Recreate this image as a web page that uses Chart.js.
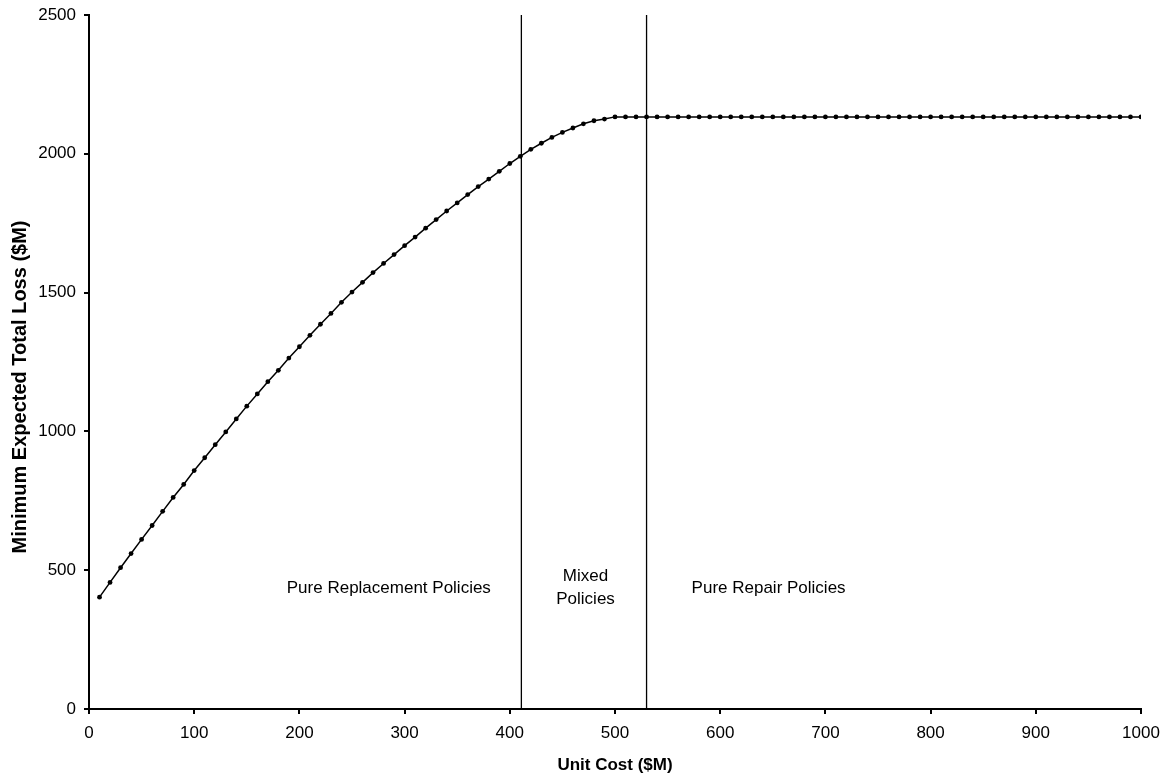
<!DOCTYPE html>
<html>
<head>
<meta charset="utf-8">
<script src="https://cdn.jsdelivr.net/npm/chart.js@4.4.1/dist/chart.umd.min.js"></script>
<style>
  html, body { margin: 0; padding: 0; background: #fff; }
  #wrap { width: 1165px; height: 776px; }
</style>
</head>
<body>
<div id="wrap"><canvas id="chart" width="1165" height="776"></canvas></div>
<script>
// unit cost ($M) for each computed point
const unitCost = [];
for (let c = 10; c <= 1000; c += 10) unitCost.push(c);

// minimum expected total loss ($M)
const lossRising = [
  403, 456, 509, 560, 611, 661, 712, 762, 809, 859,
  905, 952, 998, 1045, 1091, 1135, 1179, 1220, 1264, 1305,
  1346, 1386, 1425, 1465, 1502, 1537, 1572, 1605, 1637, 1669,
  1700, 1732, 1763, 1794, 1823, 1853, 1882, 1909, 1937, 1965,
  1991, 2016, 2038, 2059, 2077, 2093, 2108, 2119, 2125, 2133
];
const plateauLoss = 2133;
const minLoss = lossRising.concat(new Array(unitCost.length - lossRising.length).fill(plateauLoss));

// policy region boundaries
const boundaries = [411, 530];
const yRange = [0, 2500];

// region labels, in data units
const regionLabels = [
  { x: 285, y: 436, lines: ['Pure Replacement Policies'] },
  { x: 472, y: 436, lines: ['Mixed', 'Policies'] },
  { x: 646, y: 436, lines: ['Pure Repair Policies'] }
];

const yTitle = 'Minimum Expected Total Loss ($M)';
const FONT = '"Liberation Sans", Arial, sans-serif';
Chart.defaults.font.family = FONT;
Chart.defaults.color = '#000';

const lossData = unitCost.map((c, i) => ({ x: c, y: minLoss[i] }));

const boundarySets = boundaries.map(b => ({
  data: yRange.map(v => ({ x: b, y: v })),
  borderColor: '#000',
  borderWidth: 1.3,
  pointRadius: 0,
  fill: false
}));

const labelPlugin = {
  id: 'regionLabels',
  afterDatasetsDraw(chart) {
    const ctx = chart.ctx;
    const xs = chart.scales.x, ys = chart.scales.y;
    ctx.save();
    ctx.font = '17px ' + FONT;
    ctx.fillStyle = '#000';
    ctx.textAlign = 'center';
    ctx.textBaseline = 'middle';
    regionLabels.forEach(l => {
      const px = xs.getPixelForValue(l.x);
      const py = ys.getPixelForValue(l.y);
      const n = l.lines.length;
      l.lines.forEach((t, i) => {
        ctx.fillText(t, px, py + (i - (n - 1) / 2) * 23);
      });
    });
    // y axis title, placed a bit below the axis middle like the original
    ctx.font = 'bold 20px ' + FONT;
    ctx.translate(20, 387);
    ctx.rotate(-Math.PI / 2);
    ctx.fillText(yTitle, 0, 0);
    ctx.restore();
  }
};

new Chart(document.getElementById('chart'), {
  type: 'line',
  data: {
    datasets: [{
      data: lossData,
      borderColor: '#000',
      backgroundColor: '#000',
      borderWidth: 1.5,
      pointRadius: 2.4,
      pointBorderWidth: 0,
      fill: false
    }].concat(boundarySets)
  },
  options: {
    responsive: false,
    animation: false,
    layout: { padding: { top: 15, right: 24, left: 0, bottom: 0 } },
    plugins: { legend: { display: false }, tooltip: { enabled: false } },
    scales: {
      x: {
        type: 'linear',
        min: 0, max: 1000,
        ticks: { stepSize: 100, font: { size: 17 }, padding: 9, callback: v => String(v) },
        grid: { drawOnChartArea: false, drawTicks: true, tickLength: 5, color: '#000', lineWidth: 2 },
        border: { color: '#000', width: 2 },
        title: { display: true, text: 'Unit Cost ($M)', font: { size: 17, weight: 'bold' }, padding: { top: 2, bottom: 0 } },
        afterFit(scale) { scale.height = 67; scale.paddingRight = 0; scale.paddingLeft = 0; }
      },
      y: {
        min: 0, max: 2500,
        ticks: { stepSize: 500, font: { size: 17 }, padding: 8, callback: v => String(v) },
        grid: { drawOnChartArea: false, drawTicks: true, tickLength: 5, color: '#000', lineWidth: 2 },
        border: { color: '#000', width: 2 },
        title: { display: false },
        afterFit(scale) { scale.width = 89; scale.paddingTop = 0; scale.paddingBottom = 0; }
      }
    }
  },
  plugins: [labelPlugin]
});
</script>
</body>
</html>
